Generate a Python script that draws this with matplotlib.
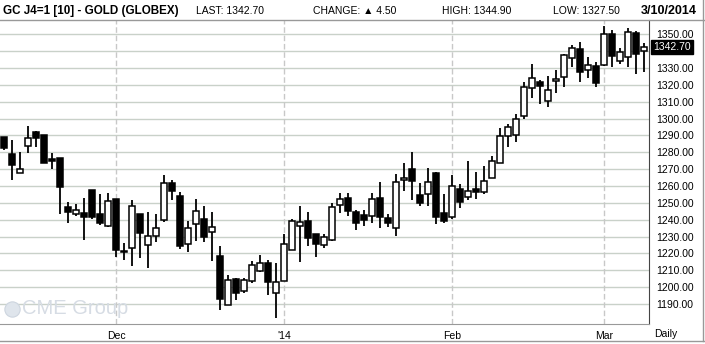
import matplotlib
matplotlib.use("Agg")
import matplotlib.pyplot as plt
from matplotlib.lines import Line2D
import matplotlib.transforms as mtrans

# 일봉 데이터 (GC J4, 2013-11 ~ 2014-03-10)
opens = [1288.8, 1278.9, 1268.0, 1283.8, 1292.3, 1290.2, 1275.8, 1276.9, 1247.3, 1243.5,
         1243.7, 1257.4, 1243.5, 1236.2, 1252.1, 1221.2, 1223.3, 1243.1, 1225.1, 1230.4,
         1239.6, 1261.7, 1254.2, 1225.4, 1237.3, 1240.3, 1232.6, 1218.5, 1189.1, 1204.8,
         1197.5, 1203.6, 1209.8, 1214.1, 1196.3, 1203.4, 1222.1, 1236.2, 1239.3, 1231.4,
         1225.1, 1228.1, 1248.5, 1253.1, 1244.7, 1242.5, 1242.1, 1253.1, 1240.8, 1235.2,
         1263.6, 1270.3, 1254.8, 1255.4, 1267.5, 1244.1, 1241.6, 1258.0, 1253.7, 1258.0,
         1256.4, 1264.7, 1273.6, 1289.8, 1290.4, 1301.6, 1318.0, 1321.6, 1310.5, 1322.2,
         1324.5, 1335.8, 1341.1, 1328.9, 1331.0, 1331.8, 1350.0, 1334.2, 1336.4, 1350.6,
         1340.1]
highs = [1289.2, 1287.2, 1280.2, 1295.5, 1292.8, 1290.2, 1279.8, 1276.9, 1250.7, 1249.1,
         1253.1, 1257.4, 1255.0, 1255.6, 1252.1, 1226.3, 1251.5, 1243.1, 1244.7, 1243.1,
         1266.8, 1263.7, 1256.4, 1239.3, 1252.4, 1248.3, 1244.3, 1224.4, 1207.2, 1205.6,
         1205.4, 1215.5, 1219.1, 1216.1, 1214.1, 1231.6, 1240.5, 1248.3, 1244.7, 1231.8,
         1231.6, 1249.7, 1255.6, 1255.6, 1245.5, 1245.5, 1255.6, 1262.6, 1243.5, 1267.3,
         1273.5, 1280.4, 1262.0, 1270.9, 1268.3, 1255.0, 1266.4, 1261.0, 1274.7, 1268.3,
         1272.0, 1277.9, 1294.7, 1296.7, 1302.8, 1321.6, 1332.2, 1322.9, 1325.3, 1328.9,
         1338.2, 1343.7, 1345.7, 1336.4, 1333.8, 1354.9, 1352.6, 1341.7, 1353.6, 1352.0,
         1344.9]
lows = [1281.4, 1263.6, 1268.0, 1279.8, 1283.2, 1273.9, 1269.9, 1243.1, 1237.8, 1242.1,
        1227.9, 1240.6, 1236.6, 1235.6, 1217.9, 1215.9, 1212.4, 1217.3, 1211.2, 1226.7,
        1238.6, 1251.4, 1222.7, 1221.1, 1227.6, 1227.0, 1215.7, 1186.7, 1189.1, 1192.3,
        1196.7, 1202.2, 1209.0, 1195.3, 1181.8, 1203.4, 1222.1, 1215.1, 1224.4, 1218.1,
        1223.3, 1227.5, 1244.1, 1242.1, 1233.8, 1236.2, 1238.2, 1235.2, 1235.8, 1230.6,
        1257.0, 1251.7, 1248.1, 1248.1, 1237.6, 1238.2, 1240.6, 1247.1, 1251.7, 1252.1,
        1255.2, 1264.7, 1273.6, 1283.4, 1286.0, 1299.6, 1312.1, 1308.5, 1306.7, 1315.4,
        1318.6, 1330.8, 1322.0, 1323.9, 1319.0, 1331.4, 1330.8, 1332.2, 1330.8, 1326.3,
        1327.5]
closes = [1282.8, 1272.5, 1270.3, 1288.2, 1288.6, 1273.9, 1275.0, 1259.4, 1244.5, 1245.5,
          1241.7, 1241.6, 1238.2, 1251.3, 1221.9, 1220.9, 1248.3, 1232.0, 1230.2, 1234.8,
          1261.8, 1256.8, 1224.6, 1235.0, 1245.1, 1230.0, 1235.6, 1193.1, 1204.2, 1196.7,
          1204.2, 1212.9, 1214.5, 1203.2, 1202.8, 1225.4, 1239.3, 1238.5, 1229.4, 1225.4,
          1230.0, 1247.7, 1252.1, 1245.1, 1238.2, 1239.8, 1252.5, 1241.6, 1238.2, 1262.6,
          1265.0, 1263.0, 1250.1, 1262.6, 1241.6, 1239.2, 1260.0, 1250.5, 1257.2, 1256.6,
          1263.1, 1275.0, 1289.8, 1294.9, 1299.6, 1318.8, 1323.9, 1319.6, 1316.8, 1323.5,
          1337.6, 1342.1, 1327.5, 1331.6, 1321.0, 1350.0, 1337.0, 1339.7, 1351.6, 1338.2,
          1342.7]

month_pos = [14, 35, 56, 75]
month_labels = ["Dec", "'14", "Feb", "Mar"]
price_ticks = list(range(1190, 1351, 10))
last_price = 1342.70

W, H = 705, 344
fig = plt.figure(figsize=(W / 100, H / 100), dpi=100)
fig.patch.set_facecolor("white")

# 차트 영역 (픽셀 기준)
left, right, top, bottom = 0, 649, 20, 324
ax = fig.add_axes([left / W, (H - bottom) / H, (right - left) / W, (bottom - top) / H])

n = len(opens)
xs = list(range(n))
ax.set_xlim(-0.5, n - 1 + 0.625)
ax.set_ylim(1178.1, 1358.5)

# 그리드
for p in price_ticks:
    ax.axhline(p, color="#c9d1c9", lw=1.0, zorder=0)
for m in month_pos:
    ax.axvline(m, color="#c8c8c8", lw=1.0, ls=(0, (4, 2)), zorder=0)

# 캔들
ax.vlines(xs, lows, highs, color="black", lw=1.3, zorder=2)
for i in xs:
    o, c = opens[i], closes[i]
    lo = min(o, c)
    h = max(abs(c - o), 0.3)
    fc = "black" if c < o else "white"
    ax.bar(i, h, bottom=lo, width=0.68, color=fc, edgecolor="black", lw=1.1, zorder=3)

# 축 스타일
for s in ["left", "top"]:
    ax.spines[s].set_visible(False)
ax.spines["right"].set_color("#444444")
ax.spines["bottom"].set_color("#999999")
ax.yaxis.tick_right()
ax.set_yticks(price_ticks)
ax.set_yticklabels(["%.2f" % p for p in price_ticks], fontsize=7.5, family="Liberation Sans")
ax.tick_params(axis="y", length=0, pad=5)
ax.set_xticks(month_pos)
ax.set_xticklabels(month_labels, fontsize=7.5, family="Liberation Sans")
ax.tick_params(axis="x", length=0, pad=5)

# 마지막 가격 박스
tr = mtrans.blended_transform_factory(ax.transAxes, ax.transData)
ax.text(1.006, last_price, "%.2f" % last_price, transform=tr, color="white",
        fontsize=7.5, family="Liberation Sans", va="center", ha="left", zorder=10,
        bbox=dict(boxstyle="square,pad=0.2", fc="black", ec="black"), clip_on=False)

# 워터마크
fig.text(22 / W, 1 - 309 / H, "CME Group", color="#d6dce4", fontsize=14.5,
         family="Liberation Sans", va="center", ha="left")
fig.add_artist(Line2D([12 / W], [1 - 309 / H], transform=fig.transFigure, marker="o",
                      ms=11, mfc="#dfe5ec", mec="#cdd5df", mew=0.8, ls="none"))

# 헤더
hy = 1 - 11 / H
fig.text(3 / W, hy, "GC J4=1 [10] - GOLD (GLOBEX)", fontsize=8.4, fontweight="bold",
         family="Liberation Sans", va="center", ha="left")
fig.text(196 / W, hy, "LAST: 1342.70", fontsize=7.5, family="Liberation Sans", va="center")
fig.text(313 / W, hy, "CHANGE: \u25b2 4.50", fontsize=7.5, family=["Liberation Sans", "DejaVu Sans"],
         va="center")
fig.text(442 / W, hy, "HIGH: 1344.90", fontsize=7.5, family="Liberation Sans", va="center")
fig.text(553 / W, hy, "LOW: 1327.50", fontsize=7.5, family="Liberation Sans", va="center")
fig.text(697 / W, hy, "3/10/2014", fontsize=9, fontweight="bold",
         family="Liberation Sans", va="center", ha="right")
fig.text(666 / W, 1 - 334 / H, "Daily", fontsize=7.5, family="Liberation Sans",
         va="center", ha="center")

# 테두리 선
fig.lines.append(Line2D([0, 1], [1 - top / H, 1 - top / H], transform=fig.transFigure,
                        color="#999999", lw=1))
fig.lines.append(Line2D([0, 1], [1 - 340.5 / H, 1 - 340.5 / H], transform=fig.transFigure,
                        color="#999999", lw=1))
fig.lines.append(Line2D([703 / W, 703 / W], [1 - 340.5 / H, 1], transform=fig.transFigure,
                        color="#999999", lw=1))

fig.savefig("out.png", dpi=100)
